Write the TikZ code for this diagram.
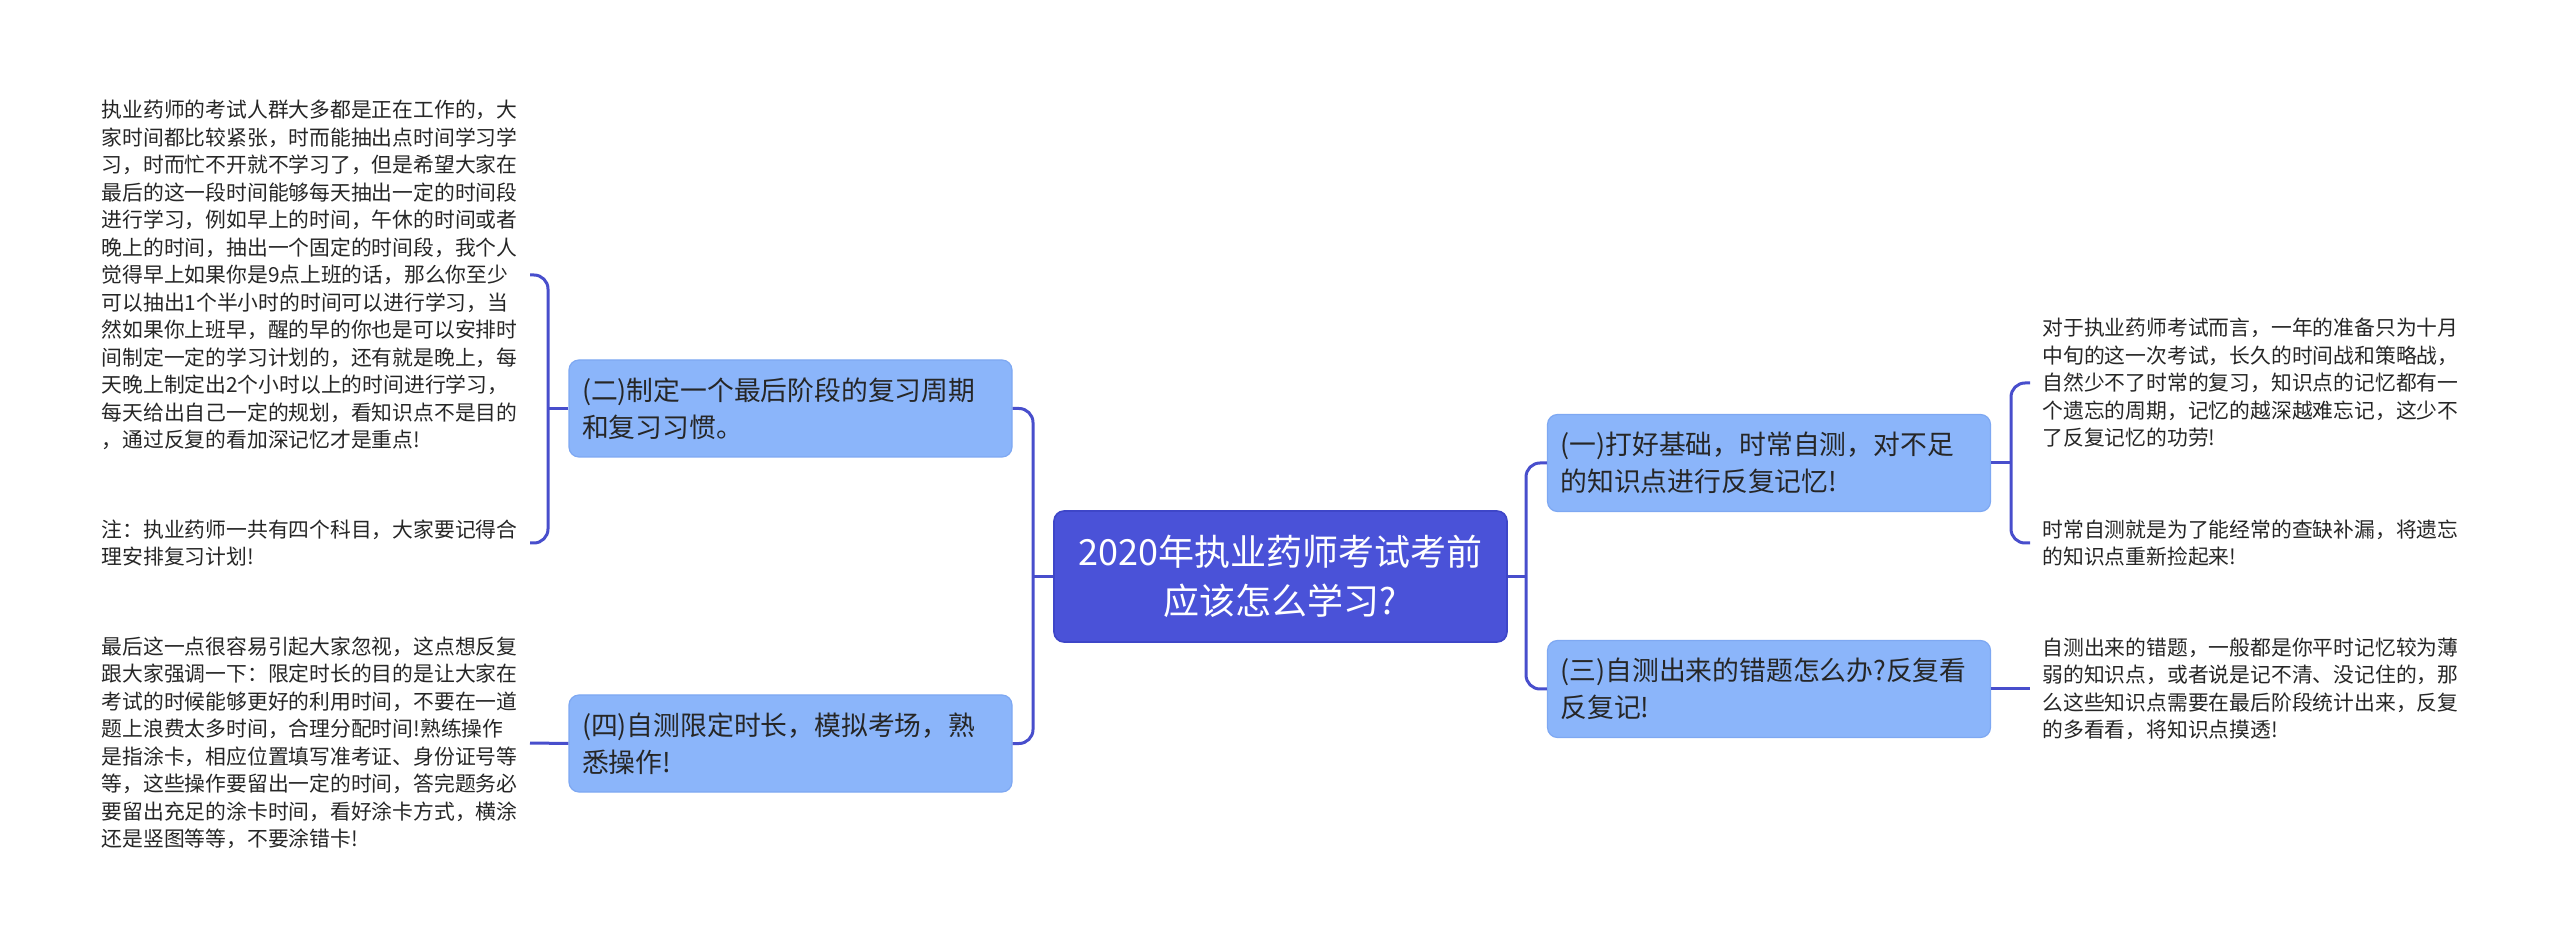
\documentclass[tikz,border=0pt]{standalone}
\usepackage{fontspec}
\setmainfont{Noto Sans CJK SC}
\definecolor{rootblue}{RGB}{74,82,216}
\definecolor{rootedge}{RGB}{62,70,200}
\definecolor{topicblue}{RGB}{139,181,250}
\definecolor{topicedge}{RGB}{126,168,242}
\definecolor{linkblue}{RGB}{72,78,204}
\definecolor{leafgray}{RGB}{38,38,38}
\tikzset{
  rootnode/.style  = {draw=rootedge, fill=rootblue, line width=0.8pt,
                      rounded corners=5pt, text=white, align=center,
                      minimum width=226.5pt, minimum height=65.5pt,
                      font=\fontsize{18pt}{24.5pt}\selectfont},
  topicnode/.style = {draw=topicedge, fill=topicblue, line width=0.6pt,
                      rounded corners=5pt, text=leafgray, align=left,
                      text width=208.5pt, inner xsep=6.5pt,
                      minimum height=48.5pt,
                      font=\fontsize{13.4pt}{18.5pt}\selectfont},
  leafnode/.style  = {text=leafgray, align=left, inner xsep=6pt, inner ysep=0pt,
                      font=\fontsize{10.4pt}{13.75pt}\selectfont},
  link/.style      = {draw=linkblue, line width=1.5pt, rounded corners=7pt}
}
\begin{document}
\begin{tikzpicture}[x=0.5pt,y=-0.5pt]
	\useasboundingbox (0,0) rectangle (2560,951);
	\node[rootnode] (root) at (1280.5,576.5) {2020年执业药师考试考前\\应该怎么学习?};
	\node[topicnode] (two) at (790.5,408.5) {(二)制定一个最后阶段的复习周期\\和复习习惯。};
	\node[topicnode] (four) at (790.5,743.5) {(四)自测限定时长，模拟考场，熟\\悉操作!};
	\node[topicnode] (one) at (1769,463) {(一)打好基础，时常自测，对不足\\的知识点进行反复记忆!};
	\node[topicnode] (three) at (1769,689) {(三)自测出来的错题怎么办?反复看\\反复记!};
	\node[leafnode, anchor=east] (twoa) at (530,275) {执业药师的考试人群大多都是正在工作的，大\\家时间都比较紧张，时而能抽出点时间学习学\\习，时而忙不开就不学习了，但是希望大家在\\最后的这一段时间能够每天抽出一定的时间段\\进行学习，例如早上的时间，午休的时间或者\\晚上的时间，抽出一个固定的时间段，我个人\\觉得早上如果你是9点上班的话，那么你至少\\可以抽出1个半小时的时间可以进行学习，当\\然如果你上班早，醒的早的你也是可以安排时\\间制定一定的学习计划的，还有就是晚上，每\\天晚上制定出2个小时以上的时间进行学习，\\每天给出自己一定的规划，看知识点不是目的\\，通过反复的看加深记忆才是重点!};
	\node[leafnode, anchor=east] (twob) at (530,543) {注：执业药师一共有四个科目，大家要记得合\\理安排复习计划!};
	\node[leafnode, anchor=east] (foura) at (530,743) {最后这一点很容易引起大家忽视，这点想反复\\跟大家强调一下：限定时长的目的是让大家在\\考试的时候能够更好的利用时间，不要在一道\\题上浪费太多时间，合理分配时间!熟练操作\\是指涂卡，相应位置填写准考证、身份证号等\\等，这些操作要留出一定的时间，答完题务必\\要留出充足的涂卡时间，看好涂卡方式，横涂\\还是竖图等等，不要涂错卡!};
	\node[leafnode, anchor=west] (onea) at (2030,383) {对于执业药师考试而言，一年的准备只为十月\\中旬的这一次考试，长久的时间战和策略战，\\自然少不了时常的复习，知识点的记忆都有一\\个遗忘的周期，记忆的越深越难忘记，这少不\\了反复记忆的功劳!};
	\node[leafnode, anchor=west] (oneb) at (2030,543) {时常自测就是为了能经常的查缺补漏，将遗忘\\的知识点重新捡起来!};
	\node[leafnode, anchor=west] (threea) at (2030,689) {自测出来的错题，一般都是你平时记忆较为薄\\弱的知识点，或者说是记不清、没记住的，那\\么这些知识点需要在最后阶段统计出来，反复\\的多看看，将知识点摸透!};
	\coordinate (lbus) at (1033,576.5);
	\coordinate (rbus) at (1526,576.5);
	\coordinate (twobus) at (548,408.5);
	\coordinate (onebus) at (2011,463);
	\draw[link] (root.west) -- (lbus);
	\draw[link] (two.east) -| (lbus) |- (four.east);
	\draw[link] (root.east) -- (rbus);
	\draw[link] (one.west) -| (rbus) |- (three.west);
	\draw[link] (two.west) -- (twobus);
	\draw[link] (twoa.east) -| (twobus) |- (twob.east);
	\draw[link] (four.west) -- (foura.east);
	\draw[link] (one.east) -- (onebus);
	\draw[link] (onea.west) -| (onebus) |- (oneb.west);
	\draw[link] (three.east) -- (threea.west);
\end{tikzpicture}
\end{document}
